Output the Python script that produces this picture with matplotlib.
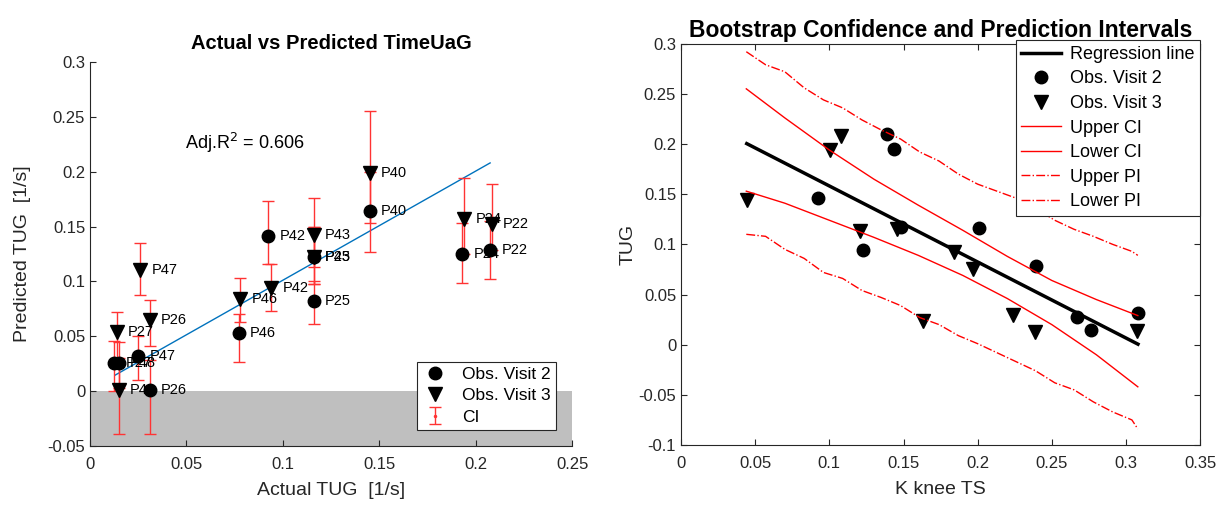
import matplotlib.pyplot as plt
import numpy as np

plt.rcParams['font.family'] = ['Liberation Sans', 'DejaVu Sans']

# ---- left panel: actual vs predicted ----
# visit 2 (circles)
v2_names = ['P40', 'P42', 'P43', 'P25', 'P46', 'P47', 'P27', 'P48', 'P26', 'P24', 'P22']
v2_actual = [0.145, 0.0925, 0.116, 0.116, 0.077, 0.025, 0.0125, 0.0148, 0.031, 0.193, 0.2075]
v2_pred = [0.164, 0.141, 0.122, 0.082, 0.053, 0.032, 0.026, 0.026, 0.001, 0.125, 0.129]
v2_lo = [0.127, 0.116, 0.098, 0.061, 0.027, 0.010, 0.000, 0.003, -0.039, 0.099, 0.102]
v2_hi = [0.200, 0.173, 0.150, 0.100, 0.070, 0.050, 0.046, 0.045, 0.028, 0.153, 0.155]

# visit 3 (triangles)
v3_names = ['P40', 'P43', 'P47', 'P46', 'P42', 'P25', 'P27', 'P26', 'P48', 'P24', 'P22']
v3_actual = [0.145, 0.116, 0.026, 0.078, 0.094, 0.116, 0.014, 0.031, 0.015, 0.194, 0.2085]
v3_pred = [0.199, 0.142, 0.110, 0.084, 0.094, 0.122, 0.054, 0.065, 0.001, 0.157, 0.152]
v3_lo = [0.153, 0.113, 0.088, 0.063, 0.073, 0.098, 0.030, 0.041, -0.039, 0.125, 0.129]
v3_hi = [0.255, 0.176, 0.135, 0.103, 0.116, 0.150, 0.072, 0.083, 0.030, 0.194, 0.189]

fit_x = [0.013, 0.2075]
fit_y = [0.0146, 0.208]
adj_r2 = 0.606

# ---- right panel: bootstrap intervals ----
obs2_x = [0.0923, 0.1389, 0.1438, 0.1224, 0.148, 0.2012, 0.2395, 0.2667, 0.2766, 0.3081]
obs2_y = [0.146, 0.2097, 0.1954, 0.0941, 0.117, 0.1163, 0.0785, 0.0271, 0.0151, 0.0317]
obs3_x = [0.0443, 0.1006, 0.1078, 0.1209, 0.1456, 0.1843, 0.163, 0.197, 0.2237, 0.239, 0.3077]
obs3_y = [0.144, 0.1937, 0.2077, 0.1134, 0.1157, 0.0924, 0.0237, 0.0759, 0.030, 0.0122, 0.0137]

reg_x = [0.0443, 0.3081]
reg_y = [0.2004, 0.0005]

ci_x = [0.044, 0.07, 0.10, 0.13, 0.16, 0.19, 0.22, 0.25, 0.28, 0.308]
ci_upper = [0.255, 0.226, 0.194, 0.165, 0.139, 0.114, 0.088, 0.064, 0.045, 0.029]
ci_lower = [0.153, 0.141, 0.124, 0.107, 0.089, 0.069, 0.046, 0.020, -0.010, -0.042]

pi_x = [0.044, 0.057, 0.070, 0.083, 0.096, 0.109, 0.122, 0.135, 0.148, 0.161, 0.174,
        0.187, 0.200, 0.213, 0.226, 0.239, 0.252, 0.265, 0.278, 0.291, 0.304, 0.308]
pi_upper = [0.292, 0.279, 0.272, 0.256, 0.244, 0.236, 0.224, 0.214, 0.205, 0.192, 0.183,
            0.170, 0.160, 0.153, 0.146, 0.136, 0.124, 0.115, 0.108, 0.100, 0.093, 0.089]
pi_lower = [0.110, 0.108, 0.095, 0.086, 0.072, 0.066, 0.054, 0.047, 0.039, 0.027, 0.020,
            0.009, 0.001, -0.008, -0.017, -0.026, -0.038, -0.045, -0.057, -0.067, -0.075, -0.084]

axcol = '#262626'
fig = plt.figure(figsize=(12.3, 5.08), dpi=100)

# left
ax1 = fig.add_axes([0.0732, 0.122, 0.3919, 0.756])
ax1.axhspan(-0.05, 0, color='#bfbfbf', lw=0, zorder=0)
ax1.plot(fit_x, fit_y, color='#0072BD', lw=1, zorder=2)

v2_err = [np.array(v2_pred) - np.array(v2_lo), np.array(v2_hi) - np.array(v2_pred)]
v3_err = [np.array(v3_pred) - np.array(v3_lo), np.array(v3_hi) - np.array(v3_pred)]
ax1.errorbar(v2_actual, v2_pred, yerr=v2_err, fmt='none', ecolor='#ff3333',
             elinewidth=1, capsize=4, zorder=3)
ax1.errorbar(v3_actual, v3_pred, yerr=v3_err, fmt='.', color='#ff3333', ms=3,
             elinewidth=1, capsize=4, zorder=3, label='CI')
ax1.plot(v2_actual, v2_pred, 'o', color='black', ms=9, ls='none', zorder=4, label='Obs. Visit 2')
ax1.plot(v3_actual, v3_pred, 'v', color='black', ms=10, ls='none', zorder=4, label='Obs. Visit 3')
for n, x, y in zip(v2_names, v2_actual, v2_pred):
    ax1.text(x + 0.0058, y, n, fontsize=10.5, va='center', ha='left', zorder=5)
for n, x, y in zip(v3_names, v3_actual, v3_pred):
    ax1.text(x + 0.0058, y, n, fontsize=10.5, va='center', ha='left', zorder=5)
ax1.text(0.049, 0.226, 'Adj.R$^2$ = %.3f' % adj_r2, fontsize=13, va='center', ha='left')

ax1.set_xlim(0, 0.25)
ax1.set_ylim(-0.05, 0.3)
ax1.set_xticks([0, 0.05, 0.1, 0.15, 0.2, 0.25])
ax1.set_xticklabels(['0', '0.05', '0.1', '0.15', '0.2', '0.25'])
ax1.set_yticks([-0.05, 0, 0.05, 0.1, 0.15, 0.2, 0.25, 0.3])
ax1.set_yticklabels(['-0.05', '0', '0.05', '0.1', '0.15', '0.2', '0.25', '0.3'])
ax1.spines['top'].set_visible(False)
ax1.spines['right'].set_visible(False)
ax1.set_title('Actual vs Predicted TimeUaG', fontsize=14.5, fontweight='bold', pad=9)
ax1.set_xlabel('Actual TUG  [1/s]', fontsize=14, color=axcol, labelpad=7)
ax1.set_ylabel('Predicted TUG  [1/s]', fontsize=14, color=axcol, labelpad=12)
h, l = ax1.get_legend_handles_labels()
order = [l.index('Obs. Visit 2'), l.index('Obs. Visit 3'), l.index('CI')]
leg1 = ax1.legend([h[i] for i in order], [l[i] for i in order], loc='lower right',
                  bbox_to_anchor=(0.967, 0.042), borderaxespad=0, fontsize=12.5,
                  fancybox=False, edgecolor='#262626', framealpha=1, handlelength=1.5,
                  borderpad=0.3, labelspacing=0.35)
leg1.get_frame().set_linewidth(0.8)

# right
ax2 = fig.add_axes([0.5537, 0.124, 0.422, 0.790])
ax2.plot(reg_x, reg_y, color='black', lw=2.5, label='Regression line')
ax2.plot(obs2_x, obs2_y, 'o', color='black', ms=9, ls='none', label='Obs. Visit 2')
ax2.plot(obs3_x, obs3_y, 'v', color='black', ms=10, ls='none', label='Obs. Visit 3')
ax2.plot(ci_x, ci_upper, color='red', lw=1, label='Upper CI')
ax2.plot(ci_x, ci_lower, color='red', lw=1, label='Lower CI')
ax2.plot(pi_x, pi_upper, color='red', lw=1, ls='-.', label='Upper PI')
ax2.plot(pi_x, pi_lower, color='red', lw=1, ls='-.', label='Lower PI')

ax2.set_xlim(0, 0.35)
ax2.set_ylim(-0.1, 0.3)
ax2.set_xticks([0, 0.05, 0.1, 0.15, 0.2, 0.25, 0.3, 0.35])
ax2.set_xticklabels(['0', '0.05', '0.1', '0.15', '0.2', '0.25', '0.3', '0.35'])
ax2.set_yticks([-0.1, -0.05, 0, 0.05, 0.1, 0.15, 0.2, 0.25, 0.3])
ax2.set_yticklabels(['-0.1', '-0.05', '0', '0.05', '0.1', '0.15', '0.2', '0.25', '0.3'])
ax2.tick_params(top=True, right=True)
ax2.set_title('Bootstrap Confidence and Prediction Intervals', fontsize=16.5,
              fontweight='bold', pad=5)
ax2.set_xlabel('K knee TS', fontsize=14, color=axcol, labelpad=7)
ax2.set_ylabel('TUG', fontsize=14, color=axcol, labelpad=1)
leg2 = ax2.legend(loc='upper right', bbox_to_anchor=(1.0, 1.008), borderaxespad=0,
                  fontsize=13, fancybox=False, edgecolor='#262626', framealpha=1,
                  handlelength=2.2, borderpad=0.3, labelspacing=0.42, handletextpad=0.5)
leg2.get_frame().set_linewidth(0.8)

for ax in (ax1, ax2):
    ax.tick_params(direction='in', labelsize=12, colors=axcol, length=4)
    ax.tick_params(axis='x', pad=8)
    for s in ax.spines.values():
        s.set_color(axcol)
        s.set_linewidth(0.8)

fig.savefig('out.png', dpi=100, facecolor='white')
